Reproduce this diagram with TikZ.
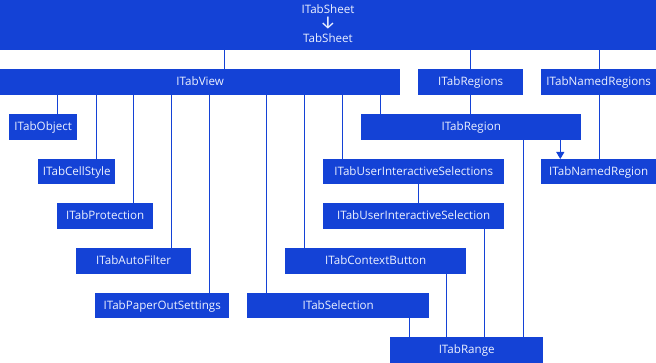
\documentclass[tikz,border=0pt]{standalone}
\usepackage{fontspec}
\setmainfont{Open Sans}
\newfontfamily\arrowfont{Fira Sans}
\usetikzlibrary{arrows.meta}
\definecolor{boxblue}{RGB}{20,66,214}
\definecolor{txtcol}{RGB}{236,241,255}
\tikzset{
  box/.style={fill=boxblue, draw=none, inner sep=0pt, anchor=north west,
    text=txtcol, font=\fontsize{11.6}{13}\selectfont, text height=0.714em, text depth=0pt},
  lbl/.style={inner sep=0pt, text=txtcol, font=\fontsize{11.6}{13}\selectfont, text height=0.714em, text depth=0pt},
  conn/.style={draw=boxblue, line width=1pt},
  arr/.style={conn, -{Triangle[length=7pt,width=8pt]}}
}
\newcommand{\bx}[6]{% name, x1, y1, x2, y2, text
  \pgfmathsetmacro{\bw}{#4-#2}\pgfmathsetmacro{\bh}{#5-#3}%
  \node[box, minimum width=\bw pt, minimum height=\bh pt] (#1) at (#2,#3) {#6};}
\begin{document}
\begin{tikzpicture}[x=1pt,y=-1pt]
\useasboundingbox (0,0) rectangle (656,363);
% boxes
\bx{sheet}{0}{0}{656}{49.5}{}
\node[lbl] (sheetname) at (328,9.5) {ITabSheet};
\node[lbl, font=\arrowfont\fontsize{18}{20}\selectfont, text height=0.7em] (sheetarrow) at (328,25.5) {↓};
\node[lbl] (sheetimpl) at (328,39) {TabSheet};
\bx{view}{0}{69}{400}{95}{ITabView}
\bx{regions}{418}{69}{523}{95}{ITabRegions}
\bx{namedregions}{541}{69}{656}{95}{ITabNamedRegions}
\bx{obj}{9}{114}{77}{140}{ITabObject}
\bx{region}{361}{114}{581}{140}{ITabRegion}
\bx{cell}{38}{159}{115}{184}{ITabCellStyle}
\bx{uis}{323}{159}{504}{184}{ITabUserInteractiveSelections}
\bx{namedregion}{541}{159}{656}{184}{ITabNamedRegion}
\bx{prot}{57}{203}{153}{229}{ITabProtection}
\bx{uisel}{323}{203}{504}{229}{ITabUserInteractiveSelection}
\bx{auto}{76}{248}{191}{274}{ITabAutoFilter}
\bx{ctx}{285}{248}{466}{274}{ITabContextButton}
\bx{paper}{95}{293}{229}{318}{ITabPaperOutSettings}
\bx{sel}{247}{293}{429}{318}{ITabSelection}
\bx{range}{390}{337}{543}{363}{ITabRange}
% connectors
\draw[conn] (sheet.south -| 224.7,0) -- (view.north -| 224.7,0);
\draw[conn] (sheet.south -| 470.6,0) -- (regions.north -| 470.6,0);
\draw[conn] (sheet.south -| 599.5,0) -- (namedregions.north -| 599.5,0);
\draw[conn] (view.south -| 57.3,0) -- (obj.north -| 57.3,0);
\draw[conn] (view.south -| 96.5,0) -- (cell.north -| 96.5,0);
\draw[conn] (view.south -| 133.5,0) -- (prot.north -| 133.5,0);
\draw[conn] (view.south -| 171.4,0) -- (auto.north -| 171.4,0);
\draw[conn] (view.south -| 209.5,0) -- (paper.north -| 209.5,0);
\draw[conn] (view.south -| 266.4,0) -- (sel.north -| 266.4,0);
\draw[conn] (view.south -| 304.5,0) -- (ctx.north -| 304.5,0);
\draw[conn] (view.south -| 342.6,0) -- (uis.north -| 342.6,0);
\draw[conn] (view.south -| 380.3,0) -- (region.north -| 380.3,0);
\draw[conn] (regions.south -| 470.6,0) -- (region.north -| 470.6,0);
\draw[conn] (namedregions.south -| 599.5,0) -- (namedregion.north -| 599.5,0);
\draw[arr] (region.south -| 560.3,0) -- (namedregion.north -| 560.3,0);
\draw[conn] (uis.south -| 418.7,0) -- (uisel.north -| 418.7,0);
\draw[conn] (sel.south -| 409.3,0) -- (range.north -| 409.3,0);
\draw[conn] (ctx.south -| 446.7,0) -- (range.north -| 446.7,0);
\draw[conn] (uisel.south -| 484.7,0) -- (range.north -| 484.7,0);
\draw[conn] (region.south -| 523.3,0) -- (range.north -| 523.3,0);
\end{tikzpicture}
\end{document}
